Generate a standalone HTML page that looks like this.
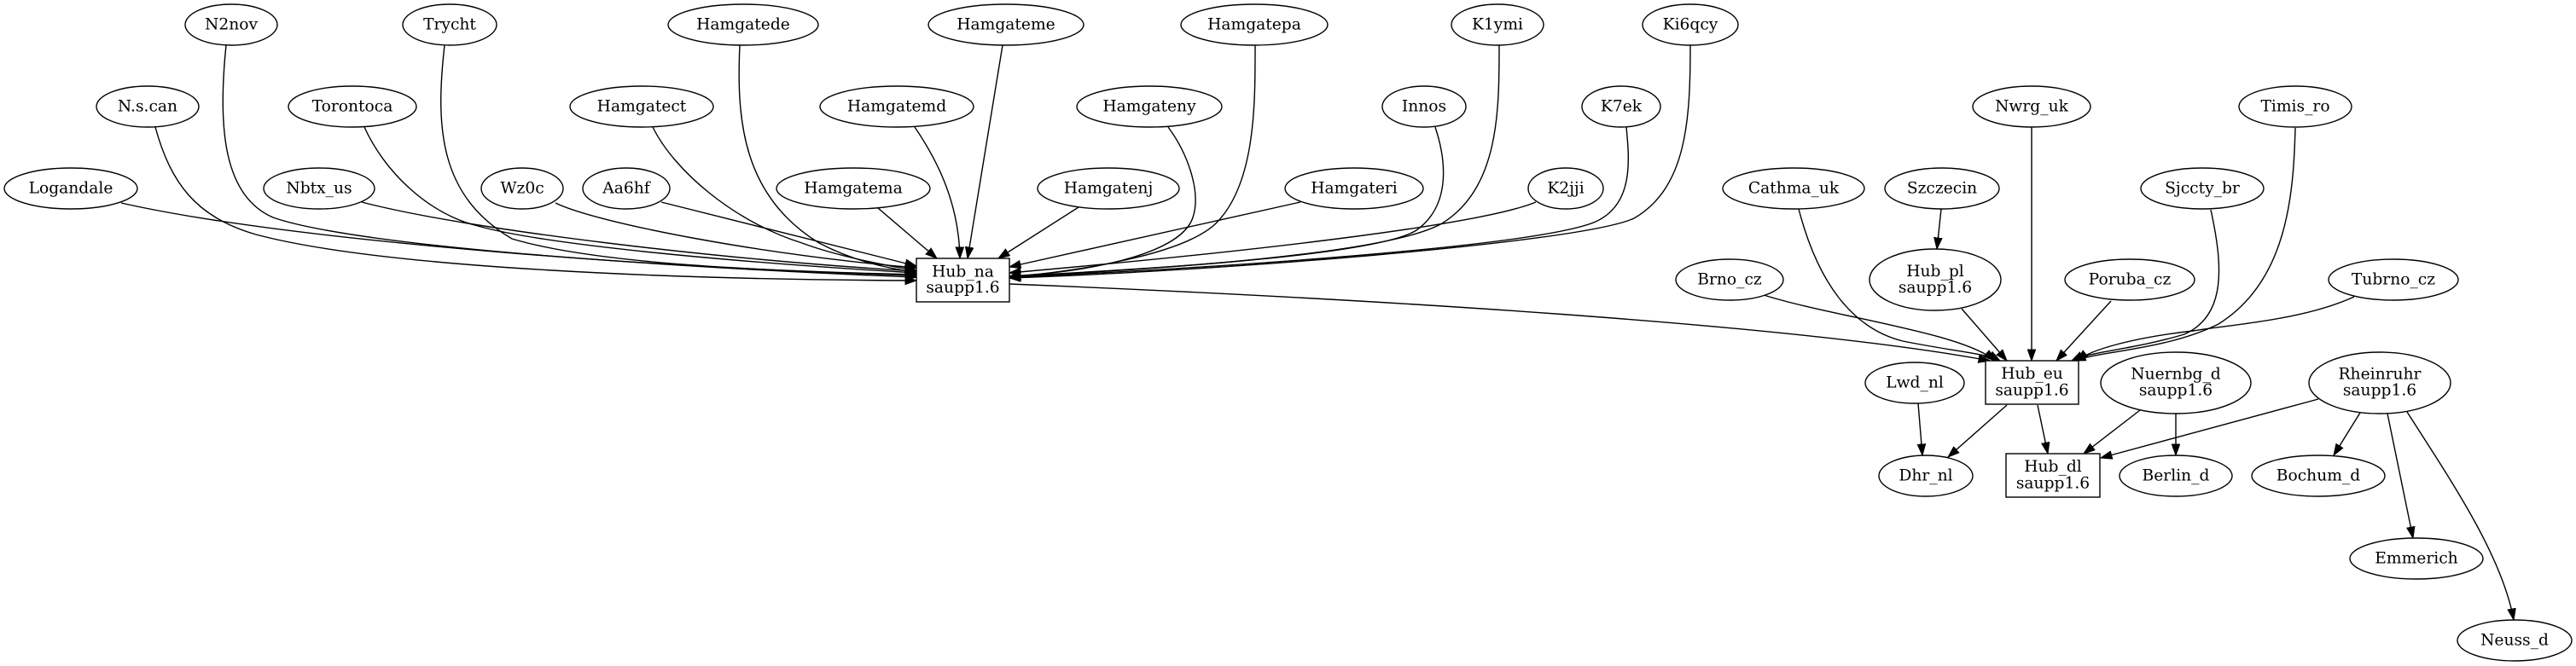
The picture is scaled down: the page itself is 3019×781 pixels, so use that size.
<!DOCTYPE html>
<html><head><meta charset="utf-8"><style>
html,body{margin:0;padding:0;background:#fff;}
svg{display:block;}
text{font-family:"DejaVu Serif","Liberation Serif",serif;font-size:18.67px;text-anchor:middle;fill:#000;}
</style></head><body>
<svg width="3019" height="781" viewBox="0 0 3019 781" xmlns="http://www.w3.org/2000/svg">
<defs>
<marker id="a" markerWidth="16" markerHeight="12" refX="13.5" refY="5" orient="auto" markerUnits="userSpaceOnUse" viewBox="0 0 16 12">
<path d="M0,0.2 L13.5,5 L0,9.8 z" fill="#000" stroke="#000" stroke-width="1"/>
</marker>
</defs>
<rect width="3019" height="781" fill="#fff"/>
<g fill="none" stroke="#000" stroke-width="1.4" marker-end="url(#a)">
<!-- top-entry to Hub_na -->
<path d="M1029,244 L1098,303"/>
<path d="M1072,149 C1100,190 1124,240 1125,303"/>
<path d="M1175,53 L1134,303"/>
<path d="M1264,243 L1170,303"/>
<!-- right side to Hub_na -->
<path d="M1524,237 L1183,313"/>
<path d="M1369,149 C1392,180 1408,225 1398,255 C1385,295 1290,318 1183,324"/>
<path d="M1471,53 C1471,120 1472,215 1425,262 C1385,300 1260,318 1183,325"/>
<path d="M1682,149 C1694,185 1702,240 1660,270 C1610,302 1300,318 1183,324"/>
<path d="M1757,53 C1757,130 1757,220 1690,262 C1620,302 1300,318 1183,325"/>
<path d="M1800,237 C1740,262 1500,292 1183,320"/>
<path d="M1906,149 C1910,190 1914,240 1870,260 C1800,290 1400,316 1183,325"/>
<path d="M1981,53 C1981,140 1977,220 1915,256 C1850,286 1400,319 1183,326"/>
<!-- left side to Hub_na -->
<path d="M775,237 L1074,312"/>
<path d="M651,238 C700,262 900,300 1074,314"/>
<path d="M765,149 C790,200 860,260 940,285 C980,300 1040,312 1074,317"/>
<path d="M867,53 C863,140 870,230 960,285 C1000,306 1040,315 1074,319"/>
<path d="M424,237 C550,270 850,305 1074,318"/>
<path d="M427,149 C450,200 500,250 560,265 C650,290 900,310 1074,320"/>
<path d="M521,53 C510,150 515,230 600,280 C700,310 900,318 1074,322"/>
<path d="M265,53 C255,150 262,230 320,255 C420,290 800,315 1074,323"/>
<path d="M142,238 C350,285 800,315 1074,325"/>
<path d="M182,149 C200,215 230,255 300,275 C450,315 800,328 1074,329"/>
<!-- Hub_na -> Hub_eu -->
<path d="M1183,333 C1600,350 2100,380 2332,423"/>
<!-- to Hub_eu -->
<path d="M2067,346 C2150,372 2300,390 2338,423"/>
<path d="M2108,245 C2130,330 2170,385 2230,400 C2290,412 2330,415 2344,423"/>
<path d="M2299,362 L2352,423"/>
<path d="M2381,149 L2381,423"/>
<path d="M2474,353 L2410,423"/>
<path d="M2591,246 C2605,310 2610,370 2560,392 C2500,410 2450,412 2428,423"/>
<path d="M2690,150 C2688,230 2680,330 2600,380 C2540,410 2460,412 2431,423"/>
<path d="M2759,348 C2700,375 2620,380 2570,388 C2500,396 2450,410 2434,423"/>
<!-- Szczecin -> Hub_pl -->
<path d="M2275,245 L2270,292"/>
<!-- lower -->
<path d="M2248,473 L2253,534"/>
<path d="M2352,475 L2283,536"/>
<path d="M2388,475 L2400,532"/>
<path d="M2508,481 L2442,532"/>
<path d="M2550,485 L2550,534"/>
<path d="M2717,468 L2462,537"/>
<path d="M2766,484 L2735,534"/>
<path d="M2798,485 L2828,631"/>
<path d="M2821,483 C2870,560 2932,650 2946,727"/>
</g>
<g fill="#fff" stroke="#000" stroke-width="1.4">
<!-- row 1 -->
<ellipse cx="271" cy="29" rx="54" ry="24"/>
<ellipse cx="527" cy="29" rx="55" ry="24"/>
<ellipse cx="871" cy="29" rx="88" ry="24"/>
<ellipse cx="1179" cy="29" rx="91" ry="24"/>
<ellipse cx="1470" cy="29" rx="86" ry="24"/>
<ellipse cx="1755" cy="29" rx="54" ry="24"/>
<ellipse cx="1981" cy="29" rx="56" ry="24"/>
<!-- row 2 -->
<ellipse cx="173" cy="125" rx="60" ry="24"/>
<ellipse cx="413" cy="125" rx="75" ry="24"/>
<ellipse cx="752" cy="125" rx="84" ry="24"/>
<ellipse cx="1051" cy="125" rx="90" ry="24"/>
<ellipse cx="1347" cy="125" rx="85" ry="24"/>
<ellipse cx="1669" cy="125" rx="49" ry="24"/>
<ellipse cx="1900" cy="125" rx="46" ry="24"/>
<ellipse cx="2381" cy="125" rx="69" ry="24"/>
<ellipse cx="2690" cy="125" rx="66" ry="24"/>
<!-- row 3 -->
<ellipse cx="83" cy="221" rx="78" ry="24"/>
<ellipse cx="374" cy="221" rx="65" ry="24"/>
<ellipse cx="612" cy="221" rx="48" ry="24"/>
<ellipse cx="734" cy="221" rx="51" ry="24"/>
<ellipse cx="1000" cy="221" rx="90" ry="24"/>
<ellipse cx="1299" cy="221" rx="83" ry="24"/>
<ellipse cx="1587" cy="221" rx="81" ry="24"/>
<ellipse cx="1835" cy="221" rx="44" ry="24"/>
<ellipse cx="2102" cy="221" rx="83" ry="24"/>
<ellipse cx="2276" cy="221" rx="67" ry="24"/>
<ellipse cx="2581" cy="221" rx="72" ry="24"/>
<!-- row 4 -->
<rect x="1074" y="303" width="109" height="51"/>
<ellipse cx="2027" cy="328" rx="63" ry="24"/>
<ellipse cx="2268" cy="328" rx="77" ry="36"/>
<ellipse cx="2496" cy="328" rx="76" ry="24"/>
<ellipse cx="2805" cy="328" rx="76" ry="24"/>
<!-- row 5 -->
<ellipse cx="2244" cy="449" rx="58" ry="24"/>
<rect x="2327" y="423" width="109" height="51"/>
<ellipse cx="2550" cy="449" rx="88" ry="36"/>
<ellipse cx="2789" cy="449" rx="83" ry="36"/>
<!-- row 6 -->
<ellipse cx="2257" cy="558" rx="55" ry="24"/>
<rect x="2351" y="532" width="110" height="51"/>
<ellipse cx="2550" cy="558" rx="66" ry="24"/>
<ellipse cx="2717" cy="558" rx="78" ry="24"/>
<!-- row 7,8 -->
<ellipse cx="2832" cy="655" rx="78" ry="24"/>
<ellipse cx="2947" cy="751" rx="67" ry="24"/>
</g>
<g>
<text x="271" y="34.5">N2nov</text>
<text x="527" y="34.5">Trycht</text>
<text x="871" y="34.5">Hamgatede</text>
<text x="1179" y="34.5">Hamgateme</text>
<text x="1470" y="34.5">Hamgatepa</text>
<text x="1755" y="34.5">K1ymi</text>
<text x="1981" y="34.5">Ki6qcy</text>

<text x="173" y="130.5">N.s.can</text>
<text x="413" y="130.5">Torontoca</text>
<text x="752" y="130.5">Hamgatect</text>
<text x="1051" y="130.5">Hamgatemd</text>
<text x="1347" y="130.5">Hamgateny</text>
<text x="1669" y="130.5">Innos</text>
<text x="1900" y="130.5">K7ek</text>
<text x="2381" y="130.5">Nwrg_uk</text>
<text x="2690" y="130.5">Timis_ro</text>

<text x="83" y="226.5">Logandale</text>
<text x="374" y="226.5">Nbtx_us</text>
<text x="612" y="226.5">Wz0c</text>
<text x="734" y="226.5">Aa6hf</text>
<text x="1000" y="226.5">Hamgatema</text>
<text x="1299" y="226.5">Hamgatenj</text>
<text x="1587" y="226.5">Hamgateri</text>
<text x="1835" y="226.5">K2jji</text>
<text x="2102" y="226.5">Cathma_uk</text>
<text x="2276" y="226.5">Szczecin</text>
<text x="2581" y="226.5">Sjccty_br</text>

<text x="1128.5" y="324.3">Hub_na</text>
<text x="1128.5" y="343.2">saupp1.6</text>
<text x="2027" y="333.5">Brno_cz</text>
<text x="2268" y="324">Hub_pl</text>
<text x="2268" y="343">saupp1.6</text>
<text x="2496" y="333.5">Poruba_cz</text>
<text x="2805" y="333.5">Tubrno_cz</text>

<text x="2244" y="454.5">Lwd_nl</text>
<text x="2381.5" y="444">Hub_eu</text>
<text x="2381.5" y="463.5">saupp1.6</text>
<text x="2550" y="444.5">Nuernbg_d</text>
<text x="2550" y="463.5">saupp1.6</text>
<text x="2789" y="444.5">Rheinruhr</text>
<text x="2789" y="463.5">saupp1.6</text>

<text x="2257" y="563.5">Dhr_nl</text>
<text x="2406" y="553">Hub_dl</text>
<text x="2406" y="572.5">saupp1.6</text>
<text x="2550" y="563.5">Berlin_d</text>
<text x="2717" y="563.5">Bochum_d</text>

<text x="2832" y="660.5">Emmerich</text>
<text x="2947" y="756.5">Neuss_d</text>
</g>
</svg>
</body></html>
